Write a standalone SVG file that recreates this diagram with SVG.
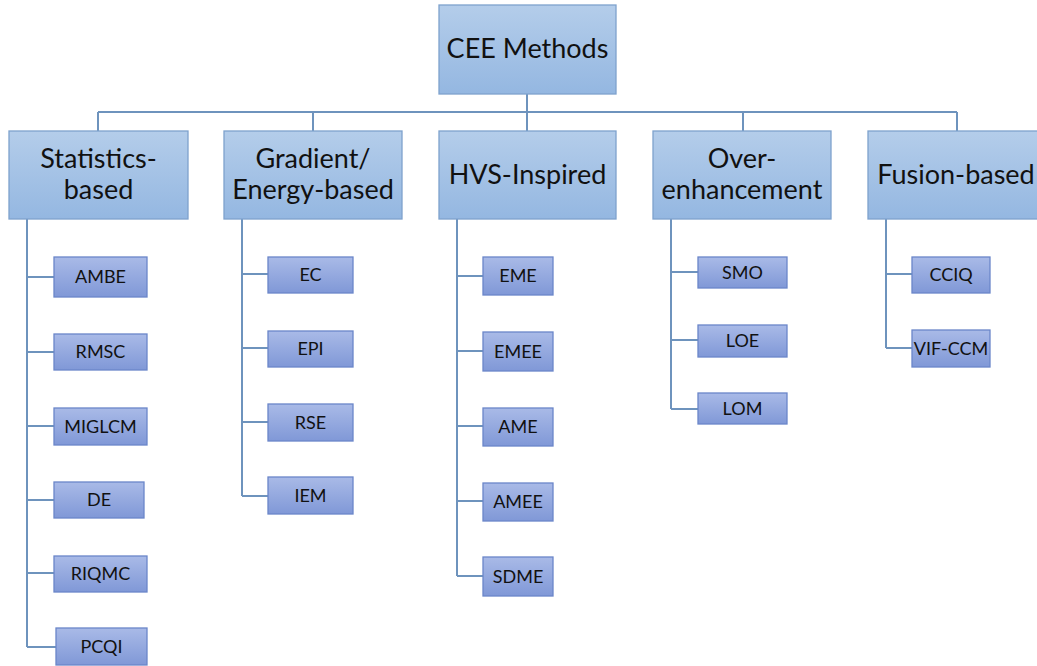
<svg xmlns="http://www.w3.org/2000/svg" width="1037" height="666" viewBox="0 0 1037 666">
<defs>
<linearGradient id="gTop" x1="0" y1="0" x2="0" y2="1">
<stop offset="0" stop-color="#B4CDEA"/>
<stop offset="1" stop-color="#94B7E1"/>
</linearGradient>
<linearGradient id="gLeaf" x1="0" y1="0" x2="0" y2="1">
<stop offset="0" stop-color="#A9BAE7"/>
<stop offset="1" stop-color="#8098D7"/>
</linearGradient>
<style>
.top rect{fill:url(#gTop);stroke:#7EA2CD;stroke-width:1.3}
.leaf rect{fill:url(#gLeaf);stroke:#6A86C9;stroke-width:1.3}
text{font-family:Lato,"Open Sans","Liberation Sans",sans-serif;fill:#111;text-anchor:middle}
.top text{font-size:27px}
.root text{font-size:27px}
.leaf text{font-size:18px}
#connectors path{fill:none;stroke:#6E93BD;stroke-width:2}
</style>
</defs>
<rect width="1037" height="666" fill="#fff"/>
<g id="connectors">
<path d="M527 94V131M98 112H957M98 112V131M313 112V131M743 112V131M957 112V131"/>
<path d="M27 219V647M27 277H54M27 352H54M27 426H54M27 500H54M27 573H54M27 647H56"/>
<path d="M242 219V496M242 274H268M242 348H268M242 422H268M242 496H268"/>
<path d="M457 219V576M457 276H483M457 351H483M457 426H483M457 501H483M457 576H483"/>
<path d="M671 219V409M671 272H698M671 340H698M671 409H698"/>
<path d="M886 219V348M886 274H912M886 348H912"/>
</g>
<g id="root" class="top root"><rect x="439" y="5" width="177" height="89"/><text x="527.5" y="58">CEE Methods</text></g>
<g id="statistics" class="top"><rect x="9" y="131" width="179" height="88"/><text x="98.5" y="168">Statistics-</text><text x="98.5" y="199">based</text></g>
<g id="gradient" class="top"><rect x="224" y="131" width="178" height="88"/><text x="313" y="168">Gradient/</text><text x="313" y="199">Energy-based</text></g>
<g id="hvs" class="top"><rect x="439" y="131" width="177" height="88"/><text x="527.5" y="184">HVS-Inspired</text></g>
<g id="over" class="top"><rect x="653" y="131" width="178" height="88"/><text x="742" y="168">Over-</text><text x="742" y="199">enhancement</text></g>
<g id="fusion" class="top"><rect x="868" y="131" width="178" height="88"/><text x="956" y="184">Fusion-based</text></g>
<g id="ambe" class="leaf"><rect x="54" y="257" width="93" height="40"/><text x="100.5" y="283">AMBE</text></g>
<g id="rmsc" class="leaf"><rect x="54" y="334" width="93" height="36"/><text x="100.5" y="358">RMSC</text></g>
<g id="miglcm" class="leaf"><rect x="54" y="408" width="93" height="37"/><text x="100.5" y="433">MIGLCM</text></g>
<g id="de" class="leaf"><rect x="54" y="482" width="90" height="36"/><text x="99" y="506">DE</text></g>
<g id="riqmc" class="leaf"><rect x="54" y="556" width="93" height="36"/><text x="100.5" y="580">RIQMC</text></g>
<g id="pcqi" class="leaf"><rect x="56" y="628" width="91" height="37"/><text x="101.5" y="653">PCQI</text></g>
<g id="ec" class="leaf"><rect x="268" y="257" width="85" height="36"/><text x="310.5" y="281">EC</text></g>
<g id="epi" class="leaf"><rect x="268" y="331" width="85" height="36"/><text x="310.5" y="355">EPI</text></g>
<g id="rse" class="leaf"><rect x="268" y="404" width="85" height="37"/><text x="310.5" y="429">RSE</text></g>
<g id="iem" class="leaf"><rect x="268" y="477" width="85" height="37"/><text x="310.5" y="502">IEM</text></g>
<g id="eme" class="leaf"><rect x="483" y="257" width="70" height="38"/><text x="518" y="282">EME</text></g>
<g id="emee" class="leaf"><rect x="483" y="332" width="70" height="39"/><text x="518" y="358">EMEE</text></g>
<g id="ame" class="leaf"><rect x="483" y="408" width="70" height="38"/><text x="518" y="433">AME</text></g>
<g id="amee" class="leaf"><rect x="483" y="483" width="70" height="38"/><text x="518" y="508">AMEE</text></g>
<g id="sdme" class="leaf"><rect x="483" y="557" width="70" height="39"/><text x="518" y="583">SDME</text></g>
<g id="smo" class="leaf"><rect x="698" y="257" width="89" height="31"/><text x="742.5" y="279">SMO</text></g>
<g id="loe" class="leaf"><rect x="698" y="325" width="89" height="32"/><text x="742.5" y="347">LOE</text></g>
<g id="lom" class="leaf"><rect x="698" y="393" width="89" height="31"/><text x="742.5" y="415">LOM</text></g>
<g id="cciq" class="leaf"><rect x="912" y="257" width="78" height="36"/><text x="951" y="281">CCIQ</text></g>
<g id="vifccm" class="leaf"><rect x="912" y="330" width="78" height="37"/><text x="951" y="355">VIF-CCM</text></g>
</svg>
